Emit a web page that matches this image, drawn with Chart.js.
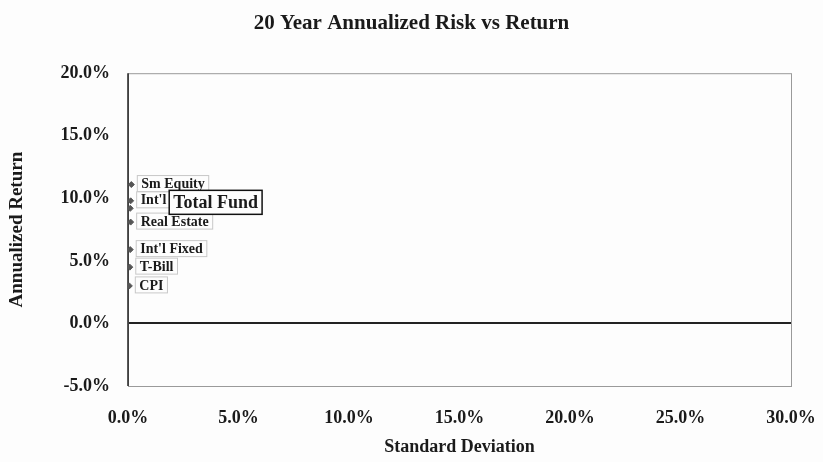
<!DOCTYPE html>
<html>
<head>
<meta charset="utf-8">
<script src="https://cdn.jsdelivr.net/npm/chart.js@4/dist/chart.umd.min.js"></script>
<style>
  html, body { margin: 0; padding: 0; background: #fdfdfd; }
  #wrap { width: 823px; height: 462px; }
</style>
</head>
<body>
<div id="wrap"><canvas id="myChart" width="823" height="462"></canvas></div>
<script>
// asset classes, 20 year risk (std dev, %) and return (%)
const assetNames = ["Sm Equity", "Int'l Equity", "Total Fund", "Real Estate", "Int'l Fixed", "T-Bill", "CPI"];
const stdDev = [0.15, 0.12, 0.1, 0.12, 0.1, 0.08, 0.06];
const annualReturn = [11.1, 9.8, 9.2, 8.1, 5.9, 4.5, 3.0];

const xTicks = [0, 5, 10, 15, 20, 25, 30];
const yTicks = [-5, 0, 5, 10, 15, 20];

const serif = "'Liberation Serif', 'DejaVu Serif', serif";

// box + text label beside each point
const pointLabels = {
  id: "pointLabels",
  afterDatasetsDraw(chart) {
    const ctx = chart.ctx;
    const meta = chart.getDatasetMeta(0);
    ctx.save();
    ctx.textBaseline = "middle";
    const order = [0, 1, 3, 4, 5, 6, 2];
    order.forEach((i) => {
      const pt = meta.data[i];
      const name = assetNames[i];
      const isFund = name === "Total Fund";
      let x = pt.x + 10;
      let y = pt.y - 1;
      if (isFund) {
        ctx.font = "bold 18px " + serif;
        x = pt.x + 43;
        y = pt.y - 6;
      } else {
        ctx.font = "bold 14px " + serif;
      }
      const w = ctx.measureText(name).width;
      const h = isFund ? 24 : 16;
      ctx.fillStyle = "#fdfdfd";
      ctx.fillRect(x - 4, y - h / 2, w + 8, h);
      ctx.strokeStyle = isFund ? "#111" : "#c8c8c8";
      ctx.lineWidth = isFund ? 1.5 : 1;
      ctx.strokeRect(x - 4, y - h / 2, w + 8, h);
      ctx.fillStyle = "#1a1a1a";
      ctx.fillText(name, x, y + 1);
    });
    ctx.restore();
  }
};

// gray frame round the plot, black left axis
const plotFrame = {
  id: "plotFrame",
  beforeDatasetsDraw(chart) {
    const a = chart.chartArea;
    const ctx = chart.ctx;
    ctx.save();
    ctx.strokeStyle = "#9a9a9a";
    ctx.lineWidth = 1;
    ctx.strokeRect(a.left + 0.5, a.top + 0.5, a.right - a.left, a.bottom - a.top);
    ctx.strokeStyle = "#222";
    ctx.lineWidth = 1.5;
    ctx.beginPath();
    ctx.moveTo(a.left, a.top);
    ctx.lineTo(a.left, a.bottom);
    ctx.stroke();
    ctx.restore();
  }
};

const points = stdDev.map((s, i) => ({ x: s, y: annualReturn[i] }));

new Chart(document.getElementById("myChart").getContext("2d"), {
  type: "scatter",
  data: {
    datasets: [
      {
        label: "Assets",
        data: points,
        pointStyle: "rectRot",
        pointRadius: 3,
        backgroundColor: "#555",
        borderColor: "#555",
        borderWidth: 1,
      },
    ],
  },
  options: {
    responsive: false,
    animation: false,
    layout: { padding: { left: 0, right: 0, top: 0, bottom: 0 } },
    plugins: {
      legend: { display: false },
      tooltip: { enabled: false },
      title: {
        display: true,
        text: "20 Year Annualized Risk vs Return",
        color: "#1a1a1a",
        font: { family: serif, size: 21, weight: "bold" },
        padding: { top: 11, bottom: 37 },
      },
    },
    scales: {
      x: {
        type: "linear",
        min: 0,
        max: 30,
        afterBuildTicks: (s) => { s.ticks = xTicks.map((v) => ({ value: v })); },
        afterFit: (s) => { s.height = 76; s.paddingRight = 32; s.paddingLeft = 0; },
        grid: { display: false, drawTicks: false },
        border: { display: false },
        ticks: {
          padding: 22,
          color: "#1a1a1a",
          font: { family: serif, size: 18, weight: "bold" },
          callback: (v) => v.toFixed(1) + "%",
        },
        title: {
          display: true,
          text: "Standard Deviation",
          color: "#1a1a1a",
          font: { family: serif, size: 18, weight: "bold" },
          padding: { top: 0, bottom: 4 },
        },
      },
      y: {
        type: "linear",
        min: -5,
        max: 20,
        afterBuildTicks: (s) => { s.ticks = yTicks.map((v) => ({ value: v })); },
        afterFit: (s) => { s.width = 128; },
        grid: {
          drawTicks: false,
          lineWidth: (c) => (c.tick && c.tick.value === 0 ? 2 : 0),
          color: (c) => (c.tick && c.tick.value === 0 ? "#222" : "rgba(0,0,0,0)"),
        },
        border: { display: false },
        ticks: {
          padding: 18,
          color: "#1a1a1a",
          font: { family: serif, size: 18, weight: "bold" },
          callback: (v) => v.toFixed(1) + "%",
        },
        title: {
          display: true,
          text: "Annualized Return",
          color: "#1a1a1a",
          font: { family: serif, size: 19, weight: "bold" },
          padding: { top: 6, bottom: 0 },
        },
      },
    },
  },
  plugins: [plotFrame, pointLabels],
});
</script>
</body>
</html>
